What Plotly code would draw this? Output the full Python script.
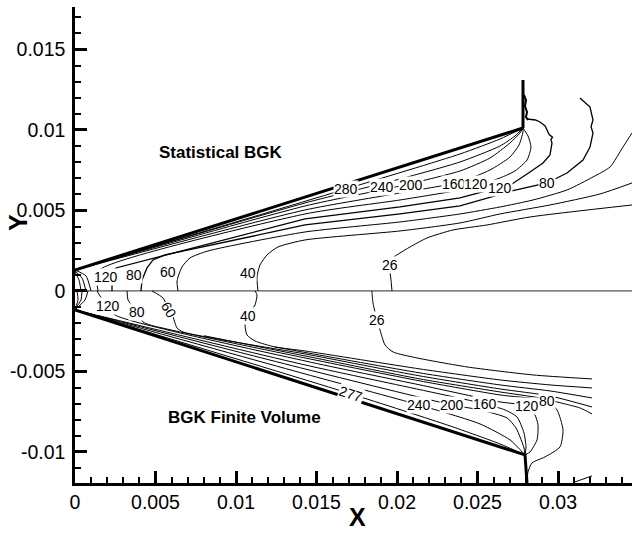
import plotly.graph_objects as go

# All geometry below is in millimetres; it is converted to metres when plotted.
MM = 1e-3

# ---------------- Statistical BGK (upper half) ----------------
wall_up_x = [0.0, 27.826]
wall_up_y = [1.304, 10.124]
base_up_x = [27.826, 27.826]
base_up_y = [10.124, 13.106]

c280u_x = [0.0, 16.832, 23.913, 26.398, 27.826]
c280u_y = [1.304, 6.335, 8.509, 9.441, 10.124]
c240u_x = [0.0, 14.286, 20.186, 23.913, 26.398, 27.329, 27.826]
c240u_y = [1.304, 5.466, 6.956, 8.012, 9.006, 9.627, 10.124]
c200u_x = [0.0, 14.286, 20.186, 23.913, 25.776, 27.019, 27.640, 27.826]
c200u_y = [1.304, 5.279, 6.522, 7.453, 8.261, 9.193, 9.814, 10.124]
c160u_x = [0.0, 14.286, 20.186, 23.913, 25.776, 27.019, 27.578, 27.826, 27.826]
c160u_y = [1.304, 5.031, 6.087, 6.770, 7.516, 8.323, 9.068, 9.876, 10.124]
c120au_x = [1.429, 1.366, 1.615, 14.286, 20.186, 23.913, 24.907, 26.398, 27.329, 28.075, 28.323, 28.137, 27.826]
c120au_y = [0.0, 0.621, 1.366, 4.783, 5.652, 6.273, 6.522, 7.019, 7.453, 8.137, 8.944, 9.627, 10.124]
c120bu_x = [2.298, 2.298, 2.547, 14.286, 20.186, 23.913, 25.776, 27.143, 28.261, 29.068, 29.503,
            29.627, 29.56, 29.66, 29.45, 29.379, 29.2, 28.882, 28.6, 28.075]
c120bu_y = [0.0, 0.621, 1.429, 4.472, 5.217, 5.776, 6.273, 6.646, 7.391, 7.950, 8.447,
            9.193, 9.40, 9.55, 9.72, 9.876, 10.25, 10.497, 10.62, 10.683]
c80u_x = [4.099, 4.161, 4.472, 4.845, 5.590, 14.286, 20.186, 23.913, 27.143, 29.317, 30.559,
          31.553, 31.988, 32.174, 32.05, 32.174, 31.988, 31.8, 31.366]
c80u_y = [0.0, 0.683, 1.429, 1.925, 2.236, 4.099, 4.783, 5.279, 6.211, 6.708, 7.329,
          8.137, 8.944, 9.814, 10.2, 10.621, 11.429, 11.6, 11.988]
c60u_x = [6.398, 6.335, 6.646, 7.143, 8.261, 14.286, 20.186, 23.913, 26.398, 28.447, 30.559,
          32.174, 33.230, 34.037, 34.596]
c60u_y = [0.0, 0.621, 1.491, 2.050, 2.484, 3.664, 4.286, 4.783, 5.217, 5.652, 6.273,
          7.081, 7.702, 8.944, 9.814]
c40u_x = [11.366, 11.304, 11.491, 11.925, 12.609, 14.286, 20.186, 23.913, 26.398, 29.503, 32.609, 34.596]
c40u_y = [0.0, 0.870, 1.615, 2.236, 2.733, 3.168, 3.727, 4.224, 4.783, 5.342, 6.025, 6.708]
c26u_x = [19.689, 19.627, 19.565, 19.752, 20.186, 20.807, 21.863, 23.478, 25.590, 28.261, 34.596]
c26u_y = [0.0, 0.683, 1.304, 2.050, 2.360, 2.733, 3.292, 3.789, 4.099, 4.596, 5.342]
le1u_x = [0.0, 0.248, 0.373]
le1u_y = [1.180, 0.683, 0.0]
le2u_x = [0.0, 0.435, 0.683]
le2u_y = [1.242, 0.807, 0.0]
le3u_x = [0.0, 0.683, 0.994]
le3u_y = [1.304, 0.932, 0.0]
baseu_noise_x = [27.888, 28.012, 27.950, 28.075, 28.012, 28.137]
baseu_noise_y = [12.174, 11.863, 11.490, 11.118, 10.807, 10.621]

# ---------------- BGK Finite Volume (lower half) ----------------
wall_lo_x = [0.0, 27.950, 28.075]
wall_lo_y = [-1.180, -10.186, -11.925]

c277l_x = [0.0, 17.143, 23.292, 26.398, 27.950]
c277l_y = [-1.180, -6.398, -8.385, -9.503, -10.186]
c240l_x = [0.0, 14.286, 21.366, 25.155, 27.019, 27.950]
c240l_y = [-1.180, -5.155, -7.081, -8.261, -9.254, -10.186]
c200l_x = [0.0, 14.286, 23.416, 25.155, 26.832, 27.391, 27.640, 27.888, 27.950]
c200l_y = [-1.180, -4.845, -7.081, -7.391, -7.888, -8.509, -9.068, -9.751, -10.186]
c160l_x = [0.0, 14.286, 25.466, 26.708, 27.453, 27.888, 28.012, 27.950]
c160l_y = [-1.180, -4.596, -7.019, -7.391, -7.826, -8.820, -9.689, -10.186]
c120l_x = [1.366, 1.553, 2.050, 2.484, 14.286, 21.429, 26.398, 28.075, 28.571, 28.758, 28.696, 28.261, 27.950]
c120l_y = [0.0, -0.311, -0.932, -1.491, -4.348, -5.838, -6.894, -7.143, -7.702, -8.323, -9.254, -10.000, -10.186]
c80l_x = [3.230, 3.292, 3.602, 3.851, 4.224, 4.658, 14.286, 21.429, 26.398, 29.317, 29.938,
          30.311, 30.124, 29.193, 28.385, 28.137, 28.075]
c80l_y = [0.0, -0.559, -0.994, -1.366, -1.925, -2.112, -4.161, -5.590, -6.460, -6.832, -7.391,
          -8.634, -9.689, -10.310, -10.683, -11.242, -11.925]
c70l_x = [8.0, 14.286, 21.429, 26.398, 28.882, 30.435, 31.366, 32.112]
c70l_y = [-2.780, -4.037, -5.466, -6.273, -6.646, -7.019, -7.267, -7.640]
c60l_x = [4.783, 5.466, 5.776, 6.087, 6.335, 6.708, 14.286, 21.429, 26.398, 29.503, 32.112]
c60l_y = [0.0, -0.435, -1.056, -1.615, -2.298, -2.547, -3.913, -5.279, -6.087, -6.522, -7.205]
c50l_x = [12.422, 14.286, 21.429, 26.398, 29.503, 32.112]
c50l_y = [-3.478, -3.820, -5.093, -5.838, -6.211, -6.646]
c40l_x = [11.180, 11.304, 11.180, 10.745, 10.559, 10.683, 11.180, 12.422, 14.286, 21.429, 26.398, 29.503, 32.112]
c40l_y = [0.0, -0.248, -0.870, -1.553, -2.112, -2.733, -3.106, -3.478, -3.727, -4.845, -5.528, -5.838, -6.025]
c26l_x = [18.447, 18.447, 18.509, 18.758, 18.944, 19.255, 19.752, 21.242, 24.348, 28.447, 32.112]
c26l_y = [0.0, -0.124, -0.745, -1.801, -2.422, -3.354, -3.789, -4.161, -4.720, -5.217, -5.466]
le1l_x = [0.0, 0.186, 0.124]
le1l_y = [-1.118, -0.559, 0.0]
le2l_x = [0.0, 0.373, 0.435]
le2l_y = [-1.118, -0.559, 0.0]
le3l_x = [0.0, 0.621, 0.807]
le3l_y = [-1.180, -0.559, 0.0]
corner_l_x = [31.056, 32.112]
corner_l_y = [-11.863, -11.490]

# Symmetry line
sym_x = [0.0, 34.596]
sym_y = [0.0, 0.0]

# Contour level labels (text, x_mm, y_mm)
up_lab_text = ["280", "240", "200", "160", "120", "120", "80", "26", "40", "60", "80", "120"]
up_lab_x = [16.832, 19.068, 20.870, 23.540, 24.907, 26.398, 29.317, 19.565, 10.745, 5.776, 3.665, 1.925]
up_lab_y = [6.335, 6.460, 6.584, 6.646, 6.646, 6.398, 6.708, 1.615, 1.118, 1.180, 0.994, 0.870]

lo_lab_text = ["120", "80", "60", "40", "26", "277", "240", "200", "160", "120", "80"]
lo_lab_x = [2.050, 3.851, 5.838, 10.745, 18.758, 17.143, 21.366, 23.416, 25.466, 28.075, 29.317]
lo_lab_y = [-0.932, -1.304, -1.180, -1.553, -1.801, -6.398, -7.081, -7.081, -7.019, -7.143, -6.832]
lo_lab_angle = [0, 0, 60, 0, 0, 18, 0, 0, 0, 0, 0]

x_ticks = [0, 0.005, 0.01, 0.015, 0.02, 0.025, 0.03]
x_ticktext = ["0", "0.005", "0.01", "0.015", "0.02", "0.025", "0.03"]
y_ticks = [-0.01, -0.005, 0, 0.005, 0.01, 0.015]
y_ticktext = ["-0.01", "-0.005", "0", "0.005", "0.01", "0.015"]

X_RANGE = [0.0, 0.034596]
Y_RANGE = [-0.01193, 0.01764]

FONT = "Liberation Sans, Arial, Helvetica, sans-serif"

fig = go.Figure()


def add_line(xs, ys, width=1.0, color="black", shape="spline"):
    fig.add_trace(go.Scatter(
        x=[v * MM for v in xs], y=[v * MM for v in ys], mode="lines",
        line=dict(color=color, width=width, shape=shape, smoothing=0.6),
        hoverinfo="skip", showlegend=False))


add_line(sym_x, sym_y, width=1.2, color="#555555", shape="linear")

contours = [
    (c280u_x, c280u_y), (c240u_x, c240u_y), (c200u_x, c200u_y), (c160u_x, c160u_y),
    (c120au_x, c120au_y), (c60u_x, c60u_y), (c40u_x, c40u_y), (c26u_x, c26u_y),
    (le1u_x, le1u_y), (le2u_x, le2u_y), (le3u_x, le3u_y),
    (c277l_x, c277l_y), (c240l_x, c240l_y), (c200l_x, c200l_y), (c160l_x, c160l_y),
    (c120l_x, c120l_y), (c80l_x, c80l_y), (c70l_x, c70l_y), (c60l_x, c60l_y),
    (c50l_x, c50l_y), (c40l_x, c40l_y), (c26l_x, c26l_y),
    (le1l_x, le1l_y), (le2l_x, le2l_y), (le3l_x, le3l_y),
]
for xs, ys in contours:
    add_line(xs, ys)

# ragged contours in the expansion region
for xs, ys in [(c120bu_x, c120bu_y), (c80u_x, c80u_y)]:
    add_line(xs, ys, width=1.3, shape="linear")
add_line(baseu_noise_x, baseu_noise_y, width=2.0, shape="linear")
add_line(corner_l_x, corner_l_y, shape="linear")

# body surfaces
add_line(wall_up_x, wall_up_y, width=3.0, shape="linear")
add_line(base_up_x, base_up_y, width=3.0, shape="linear")
add_line(wall_lo_x, wall_lo_y, width=3.0, shape="linear")

label_font = dict(family=FONT, size=14, color="black")
for t, x, y in zip(up_lab_text, up_lab_x, up_lab_y):
    fig.add_annotation(x=x * MM, y=y * MM, text=t, showarrow=False, font=label_font,
                       bgcolor="white", borderpad=0)
for t, x, y, a in zip(lo_lab_text, lo_lab_x, lo_lab_y, lo_lab_angle):
    fig.add_annotation(x=x * MM, y=y * MM, text=t, showarrow=False, font=label_font,
                       bgcolor="white", borderpad=0, textangle=a)

title_font = dict(family=FONT, size=17, color="black", weight="bold")
fig.add_annotation(x=9.068 * MM, y=8.571 * MM, text="Statistical BGK", showarrow=False, font=title_font)
fig.add_annotation(x=10.497 * MM, y=-7.888 * MM, text="BGK Finite Volume", showarrow=False, font=title_font)

axis_title_font = dict(family=FONT, size=25, color="black", weight="bold")
fig.add_annotation(xref="paper", yref="paper", x=0.5063, y=-0.0714, text="X", showarrow=False,
                   xanchor="center", yanchor="middle", font=axis_title_font)
fig.add_annotation(xref="paper", yref="paper", x=-0.1023, y=0.546, text="Y", showarrow=False,
                   xanchor="center", yanchor="middle", font=axis_title_font, textangle=-90)

axis_common = dict(
    showline=True, linewidth=2.5, linecolor="black", mirror=False,
    showgrid=False, zeroline=False,
    ticks="inside", ticklen=12, tickwidth=2.5, tickcolor="black",
    tickfont=dict(family=FONT, size=19.5, color="black"),
    minor=dict(tickmode="linear", tick0=0, dtick=0.001, ticks="inside", ticklen=6,
               tickwidth=1.5, tickcolor="black", showgrid=False),
)

fig.update_layout(
    width=632, height=534,
    margin=dict(l=75, r=0, t=7, b=51),
    plot_bgcolor="white", paper_bgcolor="white",
    showlegend=False,
    font=dict(family=FONT),
    xaxis=dict(range=X_RANGE, tickmode="array", tickvals=x_ticks, ticktext=x_ticktext,
               ticklabelstandoff=0, **axis_common),
    yaxis=dict(range=Y_RANGE, tickmode="array", tickvals=y_ticks, ticktext=y_ticktext,
               ticklabelstandoff=3, **axis_common),
)

fig.write_html("out.html")
